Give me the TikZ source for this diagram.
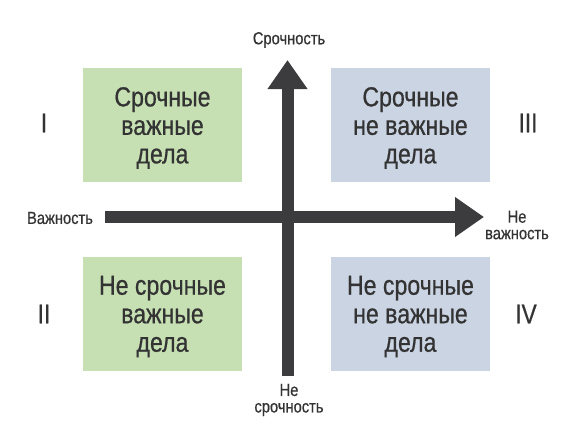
\documentclass[tikz,border=0pt]{standalone}
\usepackage{fontspec}
\setmainfont{Liberation Sans}[FakeStretch=0.84,FakeBold=0.6]
\usetikzlibrary{arrows.meta}
\definecolor{boxgreen}{HTML}{C6E0B4}
\definecolor{boxblue}{HTML}{CAD4E3}
\definecolor{axisgray}{HTML}{3C3C3E}
\definecolor{txtgray}{HTML}{333333}
\tikzset{
  quad/.style={draw=none, minimum width=159pt, minimum height=114pt, inner sep=0pt},
  quadtxt/.style={text=txtgray, align=center, font=\fontsize{27.5}{28.5}\selectfont},
  axislbl/.style={text=txtgray, align=center, font=\fontsize{17.5}{16.5}\selectfont, inner sep=0pt},
  roman/.style={text=txtgray, font=\fontsize{27}{28}\selectfont, inner sep=0pt},
  axis/.style={draw=axisgray, line width=12pt, -{Triangle[length=29pt,width=38pt]}}
}
\begin{document}
\begin{tikzpicture}[x=1pt,y=-1pt]
\useasboundingbox (0,0) rectangle (580,434);
\fill[white] (0,0) rectangle (580,434);
% quadrants
\node[quad, fill=boxgreen] (q1) at (162.5,125) {};
\node[quad, fill=boxblue]  (q3) at (410.5,125) {};
\node[quad, fill=boxgreen] (q2) at (162.5,313.5) {};
\node[quad, fill=boxblue]  (q4) at (410.5,313.5) {};
\node[quadtxt, yshift=-3pt] (t1) at (q1.center) {Срочные\\важные\\дела};
\node[quadtxt, yshift=-3pt] (t3) at (q3.center) {Срочные\\не важные\\дела};
\node[quadtxt, yshift=-3pt] (t2) at (q2.center) {Не срочные\\важные\\дела};
\node[quadtxt, yshift=-3pt] (t4) at (q4.center) {Не срочные\\не важные\\дела};
% axes
\coordinate (vbot) at (287.5,376);
\coordinate (vtop) at (287.5,60);
\coordinate (hleft) at (105,217);
\coordinate (hright) at (484,217);
\draw[axis] (vbot) -- (vtop);
\draw[axis] (hleft) -- (hright);
% axis labels
\node[axislbl] (urg) at (289,40) {Срочность};
\node[axislbl] (imp) at (60,218) {Важность};
\node[axislbl] (nimp) at (517,225) {Не\\важность};
\node[axislbl] (nurg) at (289,400) {Не\\срочность};
% roman numerals
\node[roman] (r1) at (44,123) {I};
\node[roman] (r3) at (528,123) {III};
\node[roman] (r2) at (44,314) {II};
\node[roman] (r4) at (526,314) {IV};
\end{tikzpicture}
\end{document}
